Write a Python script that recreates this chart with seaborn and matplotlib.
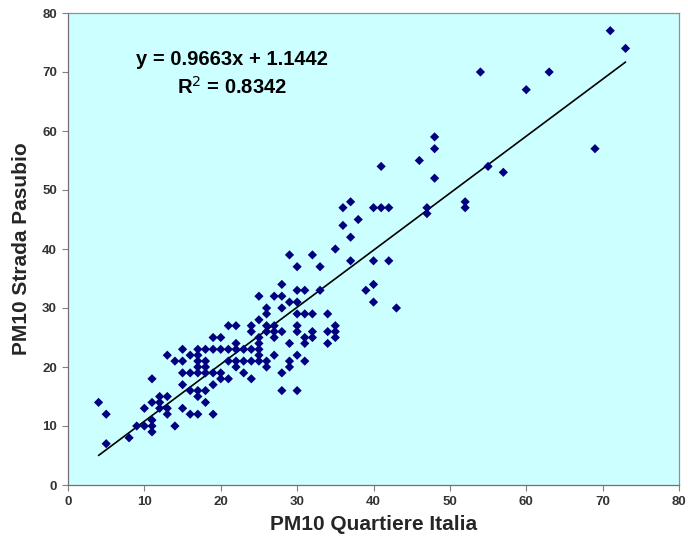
import matplotlib
matplotlib.use("Agg")
import matplotlib.pyplot as plt
import seaborn as sns
import pandas as pd

# ---- data ----
quartiere_italia = [
    4, 5, 5, 8, 9, 10, 10, 11, 11, 11, 11, 11, 12, 12, 12, 13, 13, 13, 13, 14, 14,
    21, 22, 24, 24, 19, 20, 25, 22, 25,
    15, 17, 18, 19, 20, 21, 22, 23, 24, 25,
    16, 17, 25, 27, 30,
    15, 17, 18, 21, 22, 23, 24, 25, 26, 29, 31,
    17, 18, 22, 26, 29,
    15, 16, 17, 18, 19, 20, 23, 28,
    20, 21, 24, 15, 19, 16, 17, 18, 28, 30, 17, 18, 15, 16, 17, 19,
    28, 30, 31, 33, 25, 27, 28, 29, 30, 26, 28, 26, 30, 31, 32, 34, 25,
    26, 27, 30, 35, 26, 27, 28, 30, 32, 34, 35, 27, 31, 32, 35, 29, 31, 34,
    29, 32, 30, 33,
    48, 48, 41, 46, 48, 37, 36, 40, 41, 42, 47, 47, 52, 52, 38, 36, 37, 35,
    37, 40, 42, 40, 39, 40, 43,
    71, 73, 54, 63, 60, 69, 55, 57,
]
strada_pasubio = [
    14, 12, 7, 8, 10, 10, 13, 11, 10, 9, 18, 14, 15, 14, 13, 15, 13, 12, 22, 10, 21,
    27, 27, 27, 26, 25, 25, 25, 24, 24,
    23, 23, 23, 23, 23, 23, 23, 23, 23, 23,
    22, 22, 22, 22, 22,
    21, 21, 21, 21, 21, 21, 21, 21, 21, 21, 21,
    20, 20, 20, 20, 20,
    19, 19, 19, 19, 19, 19, 19, 19,
    18, 18, 18, 17, 17, 16, 16, 16, 16, 16, 15, 14, 13, 12, 12, 12,
    34, 33, 33, 33, 32, 32, 32, 31, 31, 30, 30, 29, 29, 29, 29, 29, 28,
    27, 27, 27, 27, 26, 26, 26, 26, 26, 26, 26, 25, 25, 25, 25, 24, 24, 24,
    39, 39, 37, 37,
    59, 57, 54, 55, 52, 48, 47, 47, 47, 47, 47, 46, 48, 47, 45, 44, 42, 40,
    38, 38, 38, 34, 33, 31, 30,
    77, 74, 70, 70, 67, 57, 54, 53,
]
slope = 0.9663
intercept = 1.1442
r_squared = 0.8342
x_ticks = [0, 10, 20, 30, 40, 50, 60, 70, 80]
y_ticks = [0, 10, 20, 30, 40, 50, 60, 70, 80]
x_label = "PM10 Quartiere Italia"
y_label = "PM10 Strada Pasubio"

df = pd.DataFrame({"x": quartiere_italia, "y": strada_pasubio})
x_min, x_max = min(quartiere_italia), max(quartiere_italia)
fit = pd.DataFrame({"x": [x_min, x_max],
                    "y": [slope * x_min + intercept, slope * x_max + intercept]})

sns.set_style("white")
plt.rcParams["font.family"] = ["Liberation Sans", "DejaVu Sans"]

fig = plt.figure(figsize=(6.88, 5.43), dpi=100)
ax = fig.add_axes([68 / 688, 58 / 543, 611 / 688, 472 / 543])
ax.set_facecolor("#CCFFFF")

sns.scatterplot(data=df, x="x", y="y", ax=ax, marker="D", s=22,
                color="#000080", edgecolor="none", linewidth=0, zorder=3)
sns.lineplot(data=fit, x="x", y="y", ax=ax, color="black", linewidth=1.2, zorder=2)

ax.set_xlim(0, 80)
ax.set_ylim(0, 80)
ax.set_xticks(x_ticks)
ax.set_yticks(y_ticks)
ax.set_xticklabels([str(t) for t in x_ticks], fontsize=9.5, fontweight="bold", color="#333333")
ax.set_yticklabels([str(t) for t in y_ticks], fontsize=9.5, fontweight="bold", color="#333333")
ax.tick_params(axis="both", direction="out", length=4, width=0.8, color="#808080", pad=4)
ax.tick_params(axis="x", bottom=True)
ax.tick_params(axis="y", left=True)
for sp in ax.spines.values():
    sp.set_visible(True)
    sp.set_color("#909090")
    sp.set_linewidth(0.9)
ax.spines["left"].set_color("#707070")
ax.spines["bottom"].set_color("#707070")

ax.set_xlabel(x_label, fontsize=15, fontweight="bold", labelpad=5)
ax.set_ylabel(y_label, fontsize=15, fontweight="bold", labelpad=8)

ax.text(21.5, 69.7, f"y = {slope}x + {intercept}\nR$^2$ = {r_squared}",
        fontsize=14.5, fontweight="bold", ha="center", va="center",
        linespacing=1.35, color="black")

fig.savefig("out.png", dpi=100, facecolor="white")
